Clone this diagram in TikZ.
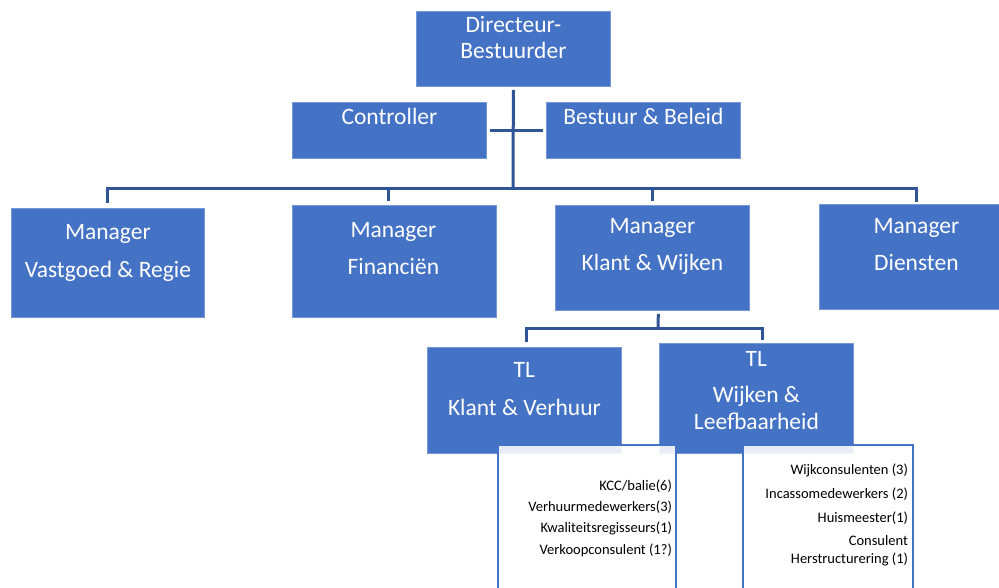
\documentclass[tikz,border=0pt]{standalone}
\usepackage{fontspec}
\setmainfont{Carlito}
\usepackage{xcolor}
\usepackage{tikz}
\usetikzlibrary{positioning,calc}

\definecolor{unitblue}{HTML}{4472C4}
\definecolor{unitedge}{HTML}{7497D6}
\definecolor{linkblue}{HTML}{2F5597}

\begin{document}
\begin{tikzpicture}[x=1pt, y=-1pt,
        unit/.style={draw=unitedge, line width=0.8pt, fill=unitblue, anchor=north west, inner sep=0pt},
        unittext/.style={text=white, font=\fontsize{23.5}{26}\selectfont, align=center, anchor=base, inner sep=0pt},
        staff/.style={draw=unitblue, line width=2.2pt, fill=white, fill opacity=0.88, anchor=north west, inner sep=0pt},
        stafftext/.style={text=black, font=\fontsize{14.5}{18}\selectfont, align=right, anchor=base east, inner sep=0pt},
        link/.style={draw=linkblue, line width=3pt}]
        \useasboundingbox (0,0) rectangle (999,588);

        % Top
        \node[unit, minimum width=194pt, minimum height=75pt] (dir) at (416,11) {};
        \node[unit, minimum width=194pt, minimum height=56pt] (ctrl) at (292,102) {};
        \node[unit, minimum width=194pt, minimum height=56pt] (beleid) at (546,102) {};
        \node[unittext] (dirtxt) at ([yshift=-48pt]dir.north) {Directeur-\\Bestuurder};
        \node[unittext] (ctrltxt) at ([yshift=-23pt]ctrl.north) {Controller};
        \node[unittext] (beleidtxt) at ([yshift=-23pt]beleid.north) {Bestuur \& Beleid};

        % Managers
        \node[unit, minimum width=193pt, minimum height=109pt] (mvast) at (11,208) {};
        \node[unit, minimum width=204pt, minimum height=112pt] (mfin) at (292,205) {};
        \node[unit, minimum width=194pt, minimum height=105pt] (mklant) at (555,205) {};
        \node[unit, minimum width=194pt, minimum height=105pt] (mdienst) at (819,204) {};
        \node[unittext] (mvasttxt) at ([yshift=-69pt]mvast.north) {Manager\\[12pt]Vastgoed \& Regie};
        \node[unittext] (mfintxt) at ([yshift=-69pt, xshift=-1pt]mfin.north) {Manager\\[10pt]Financiën};
        \node[unittext] (mklanttxt) at ([yshift=-66pt]mklant.north) {Manager\\[11pt]Klant \& Wijken};
        \node[unittext] (mdiensttxt) at ([yshift=-67pt]mdienst.north) {Manager\\[11pt]Diensten};

        % Team leaders
        \node[unit, minimum width=194pt, minimum height=106pt] (tlklant) at (427,347) {};
        \node[unit, minimum width=194pt, minimum height=110pt] (tlwijk) at (659,343) {};
        \node[unittext] (tlklanttxt) at ([yshift=-68pt]tlklant.north) {TL\\[12pt]Klant \& Verhuur};
        \node[unittext] (tlwijktxt) at ([yshift=-86pt]tlwijk.north) {TL\\[10pt]Wijken \&\\[1pt]Leefbaarheid};

        % Staff
        \node[staff, minimum width=178pt, minimum height=200pt] (staffklant) at (497,444) {};
        \node[staff, minimum width=170pt, minimum height=200pt] (staffwijk) at (742,444) {};
        \node[stafftext, font=\fontsize{14.5}{21.3}\selectfont] (staffklanttxt) at ([xshift=-5pt, yshift=-110pt]staffklant.north east)
            {KCC/balie(6)\\Verhuurmedewerkers(3)\\Kwaliteitsregisseurs(1)\\Verkoopconsulent (1?)};
        \node[stafftext] (staffwijktxt) at ([xshift=-6pt, yshift=-119pt]staffwijk.north east)
            {Wijkconsulenten (3)\\[6pt]Incassomedewerkers (2)\\[6pt]Huismeester(1)\\[5pt]Consulent\\Herstructurering (1)};

        % Lines
        \coordinate (bus) at (513,189);
        \coordinate (split) at (658,328);
        \coordinate (mfintop) at ([xshift=-6pt]mfin.north);
        \coordinate (mklantbot) at ([xshift=6pt]mklant.south);
        \coordinate (tlklanttop) at ([xshift=2pt]tlklant.north);
        \coordinate (tlwijktop) at ([xshift=6pt]tlwijk.north);
        \draw[link, shorten <=3pt] (dir.south) -- (bus);
        \draw[link, shorten <=3pt, shorten >=3pt] (ctrl.east) -- (beleid.west);
        \draw[link, shorten <=5pt, shorten >=2pt] (mvast.north) -- (mvast.north |- bus) -- (mdienst.north |- bus) -- (mdienst.north);
        \draw[link, shorten >=4pt] (mfintop |- bus) -- (mfintop);
        \draw[link, shorten >=4pt] (mklant.north |- bus) -- (mklant.north);
        \draw[link, shorten <=3pt] (mklantbot) -- (split);
        \draw[link, shorten <=5pt, shorten >=3pt] (tlklanttop) -- (tlklanttop |- split) -- (tlwijktop |- split) -- (tlwijktop);
    \end{tikzpicture}
\end{document}
